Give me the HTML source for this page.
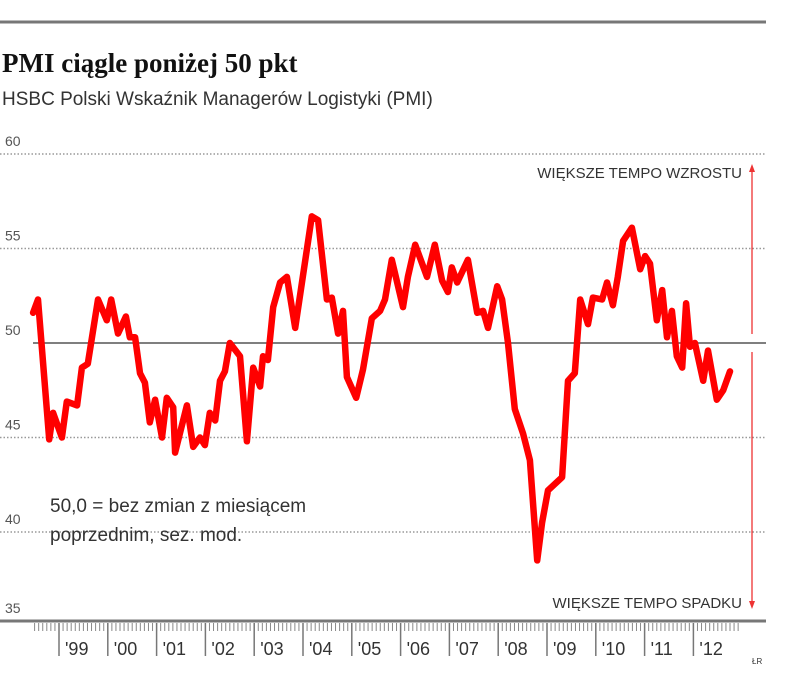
<!DOCTYPE html>
<html><head><meta charset="utf-8"><style>
body{margin:0;background:#fff;width:805px;height:677px;overflow:hidden;font-family:"Liberation Sans",sans-serif}
svg{display:block}
</style></head><body>
<svg width="805" height="677" id="chart">
<line x1="0" y1="22" x2="766" y2="22" stroke="#777" stroke-width="3"/>
<text x="2" y="72" font-family="Liberation Serif, serif" font-weight="bold" font-size="27" fill="#111">PMI ciągle poniżej 50 pkt</text>
<text x="2" y="105" font-size="19" fill="#333">HSBC Polski Wskaźnik Managerów Logistyki (PMI)</text>
<g id="grid"></g>
<g id="axis"></g>
<text x="742" y="178" font-size="15" fill="#333" text-anchor="end">WIĘKSZE TEMPO WZROSTU</text>
<text x="742" y="608" font-size="15" fill="#333" text-anchor="end">WIĘKSZE TEMPO SPADKU</text>
<g><line x1="752" y1="170" x2="752" y2="334" stroke="#e33" stroke-width="1.3"/><path d="M749,172 L752,164 L755,172Z" fill="#e33"/></g>
<g><line x1="752" y1="352" x2="752" y2="603" stroke="#e33" stroke-width="1.3"/><path d="M749,601 L752,609 L755,601Z" fill="#e33"/></g>
<text x="50" y="512" font-size="19" fill="#333">50,0 = bez zmian z miesiącem</text>
<text x="50" y="541" font-size="19" fill="#333">poprzednim, sez. mod.</text>
<text x="752" y="664" font-size="8" fill="#333">ŁR</text>
<g id="series"></g>
</svg>
<script>
const yTicks=[60,55,50,45,40,35];
const yearLabels=["'99","'00","'01","'02","'03","'04","'05","'06","'07","'08","'09","'10","'11","'12"];
const years=[1999,2000,2001,2002,2003,2004,2005,2006,2007,2008,2009,2010,2011,2012];
const dates=[1998.47,1998.57,1998.80,1998.88,1999.06,1999.16,1999.37,1999.47,1999.59,1999.80,1999.98,2000.07,2000.21,2000.37,2000.45,2000.56,2000.66,2000.76,2000.86,2000.97,2001.11,2001.21,2001.34,2001.38,2001.62,2001.75,2001.89,2001.99,2002.09,2002.20,2002.30,2002.40,2002.50,2002.71,2002.85,2002.98,2003.12,2003.18,2003.28,2003.39,2003.53,2003.67,2003.84,2004.18,2004.31,2004.49,2004.59,2004.72,2004.82,2004.90,2005.09,2005.23,2005.41,2005.58,2005.68,2005.82,2006.05,2006.15,2006.30,2006.54,2006.70,2006.85,2006.97,2007.05,2007.16,2007.38,2007.57,2007.69,2007.79,2007.98,2008.08,2008.20,2008.34,2008.51,2008.65,2008.80,2008.90,2009.02,2009.31,2009.43,2009.57,2009.68,2009.84,2009.94,2010.13,2010.23,2010.35,2010.45,2010.56,2010.74,2010.91,2011.01,2011.11,2011.25,2011.36,2011.46,2011.56,2011.66,2011.77,2011.85,2011.93,2012.03,2012.20,2012.30,2012.48,2012.61,2012.75];
const pmi=[51.6,52.3,44.9,46.3,45.0,46.9,46.7,48.7,48.9,52.3,51.2,52.3,50.5,51.4,50.3,50.3,48.4,47.9,45.8,47.0,45.0,47.1,46.6,44.2,46.7,44.5,45.0,44.6,46.3,45.9,48.0,48.5,50.0,49.3,44.8,48.7,47.7,49.3,49.1,51.9,53.2,53.5,50.8,56.7,56.5,52.3,52.4,50.5,51.7,48.2,47.1,48.6,51.3,51.7,52.3,54.4,51.9,53.5,55.2,53.5,55.2,53.3,52.7,54.0,53.2,54.4,51.6,51.7,50.8,53.0,52.3,50.0,46.5,45.2,43.8,38.5,40.5,42.2,42.9,48.0,48.4,52.3,51.0,52.4,52.3,53.2,52.0,53.5,55.4,56.1,53.9,54.6,54.2,51.2,52.8,50.3,51.7,49.3,48.7,52.1,49.8,50.0,48.0,49.6,47.0,47.5,48.5];
const NS="http://www.w3.org/2000/svg";
const y=v=>343-(v-50)*18.9;
const x=t=>59+(t-1999)*48.8;
function mk(tag,attrs,parent){const e=document.createElementNS(NS,tag);for(const k in attrs)e.setAttribute(k,attrs[k]);parent.appendChild(e);return e;}
const grid=document.getElementById('grid'),axis=document.getElementById('axis'),series=document.getElementById('series');
yTicks.forEach(v=>{
  const yy=y(v);
  if(v===35)return;
  const l=mk('line',{x1:v===50?33:0,y1:yy,x2:766,y2:yy,stroke:v===50?'#555':'#999','stroke-width':v===50?1.6:1.5,'stroke-dasharray':v===50?'none':'1.5 2'},grid);
  
  
});
yTicks.forEach(v=>{
  const t=mk('text',{x:5,y:Math.min(y(v)-8,613),'font-size':14,fill:'#555'},grid);
  t.textContent=v;
  
  
});
const ax=mk('line',{x1:0,y1:621,x2:766,y2:621,stroke:'#777','stroke-width':3},axis);


for(let t=1998.0;t<=2013.4;t+=1/12){
  const xx=x(t); if(xx<33||xx>741)continue;
  mk('line',{x1:xx,y1:623,x2:xx,y2:631,stroke:'#888','stroke-width':1},axis);
}
years.forEach((yr,i)=>{
  const xx=x(yr);
  const tk=mk('line',{x1:xx,y1:623,x2:xx,y2:656,stroke:'#777','stroke-width':1.5},axis);
  
  
  const lb=mk('text',{x:xx+6,y:655,'font-size':18,fill:'#333'},axis);
  lb.textContent=yearLabels[i];
  
  
});
const d=dates.map((t,i)=>(i?'L':'M')+x(t).toFixed(1)+','+y(pmi[i]).toFixed(1)).join(' ');
const p=mk('path',{d:d,fill:'none',stroke:'#ff0000','stroke-width':6.5,'stroke-linejoin':'round','stroke-linecap':'round'},series);


</script>
</body></html>
